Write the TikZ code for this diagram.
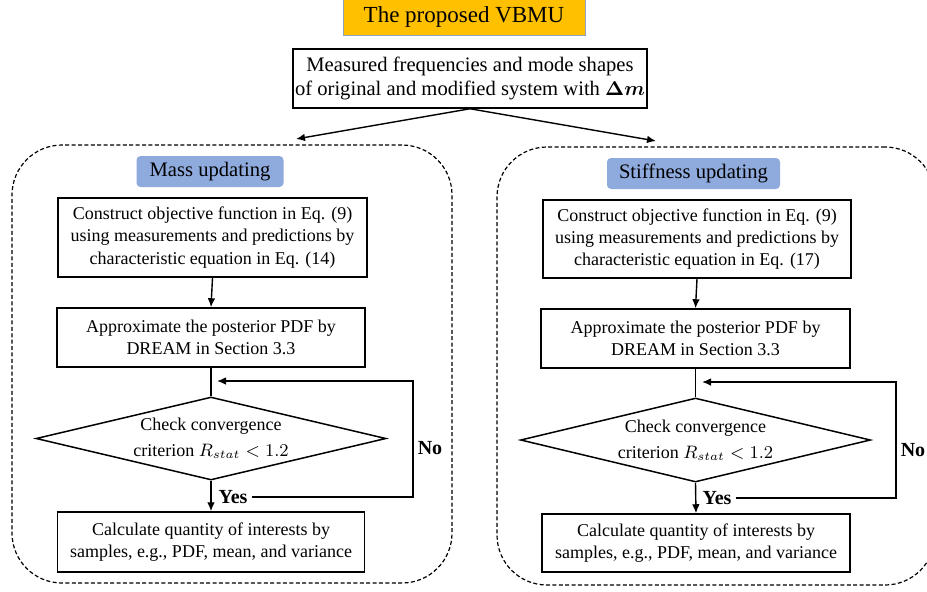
\documentclass[tikz,border=0pt]{standalone}
\usepackage{fontspec}
\usepackage{bm}
\setmainfont{Liberation Serif}
\usetikzlibrary{shapes.geometric,arrows.meta}
\definecolor{vorange}{HTML}{FFC000}
\definecolor{vblue}{HTML}{8FAADC}
\definecolor{vborder}{HTML}{8EA3C2}
\begin{document}
\begin{tikzpicture}[x=0.5pt,y=-0.5pt,
  font=\fontsize{10.3}{11.6}\selectfont,
  box/.style={draw,line width=0.75pt,align=center,inner sep=0pt,font=\fontsize{9}{11.2}\selectfont},
  cont/.style={draw,dash pattern=on 2pt off 1.2pt,line width=0.6pt,rounded corners=25pt,inner sep=0pt},
  tag/.style={fill=vblue,rounded corners=2pt,inner sep=0pt},
  dia/.style={draw,diamond,line width=0.75pt,inner sep=0pt},
  dtext/.style={align=center,inner sep=0pt,font=\fontsize{9}{13}\selectfont},
  arr/.style={-{Latex[length=4.5pt,width=3.8pt]},line width=0.7pt},
  plain/.style={line width=0.7pt},
  lbl/.style={font=\fontsize{10}{11.6}\selectfont\bfseries,inner sep=2pt}]
\useasboundingbox (0,0) rectangle (927,591);
% containers
\node[cont,minimum width=220pt,minimum height=219pt] (Lbox) at (232,364) {};
\node[cont,minimum width=219pt,minimum height=219pt] (Rbox) at (716,366) {};
% top
\node[draw=vborder,fill=vorange,line width=0.5pt,minimum width=121pt,minimum height=18.5pt,inner sep=0pt,font=\fontsize{11.5}{13}\selectfont] (title) at (464,16.5) {The proposed VBMU};
\node[box,minimum width=177pt,minimum height=29.5pt,font=\fontsize{10.3}{11.6}\selectfont] (meas) at (470,78.5) {Measured frequencies and mode shapes\\of original and modified system with $\bm{\Delta m}$};
\coordinate (la) at (296,139);
\coordinate (ra) at (656,141);
\draw[arr] (meas.south) -- (la);
\draw[arr] (meas.south) -- (ra);
% left column
\node[tag,minimum width=73.5pt,minimum height=15.5pt] (Ltag) at (210,171.5) {Mass updating};
\node[box,minimum width=154.5pt,minimum height=39.5pt] (L1) at (212.5,237.5) {Construct objective function in Eq. (9)\\using measurements and predictions by\\characteristic equation in Eq. (14)};
\node[box,minimum width=154pt,minimum height=29.5pt] (L2) at (211,337.5) {Approximate the posterior PDF by\\DREAM in Section 3.3};
\node[dia,minimum width=175pt,minimum height=41.5pt] (Ld) at (211,438.5) {};
\node[dtext] (Ldt) at (Ld.center) {Check convergence\\criterion $R_{stat} < 1.2$};
\node[box,minimum width=153.5pt,minimum height=30pt] (L3) at (211,542) {Calculate quantity of interests by\\samples, e.g., PDF, mean, and variance};
\node[lbl] (LY) at (233,497) {Yes};
\node[lbl] (LN) at (430,448) {No};
\coordinate (Lc) at (413,381);
\coordinate (Lt) at (217,381);
\draw[arr] (L1.south) -- (L2.north);
\draw[plain] (L2.south) -- (Ld.north);
\draw[arr] (Ld.south) -- (L3.north);
\draw[arr] (LY.east) -| (Lc) -- (Lt);
% right column
\node[tag,minimum width=86.5pt,minimum height=15.5pt] (Rtag) at (693.5,173.5) {Stiffness updating};
\node[box,minimum width=154pt,minimum height=39pt] (R1) at (697,239) {Construct objective function in Eq. (9)\\using measurements and predictions by\\characteristic equation in Eq. (17)};
\node[box,minimum width=154.5pt,minimum height=29.5pt] (R2) at (695.5,338.5) {Approximate the posterior PDF by\\DREAM in Section 3.3};
\node[dia,minimum width=175pt,minimum height=42pt] (Rd) at (695.5,440) {};
\node[dtext] (Rdt) at (Rd.center) {Check convergence\\criterion $R_{stat} < 1.2$};
\node[box,minimum width=154pt,minimum height=29pt] (R3) at (696,543) {Calculate quantity of interests by\\samples, e.g., PDF, mean, and variance};
\node[lbl] (RY) at (717,498) {Yes};
\node[lbl] (RN) at (913,450) {No};
\coordinate (Rc) at (896,382);
\coordinate (Rt) at (702,382);
\draw[arr] (R1.south) -- (R2.north);
\draw[plain] (R2.south) -- (Rd.north);
\draw[arr] (Rd.south) -- (R3.north);
\draw[arr] (RY.east) -| (Rc) -- (Rt);
\end{tikzpicture}
\end{document}
